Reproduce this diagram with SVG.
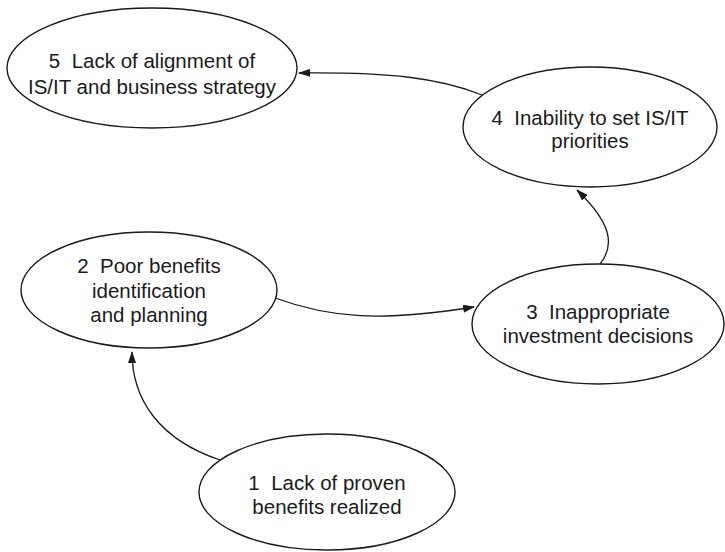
<svg xmlns="http://www.w3.org/2000/svg" width="725" height="552" viewBox="0 0 725 552">
<style>
.node ellipse{fill:#fff;stroke:#1a1a1a;stroke-width:1.4}
.node text{font-family:"Liberation Sans",Arial,sans-serif;font-size:20.5px;fill:#1a1a1a;text-anchor:middle}
.edge{fill:none;stroke:#1a1a1a;stroke-width:1.3}
</style>
<defs>
<marker id="arr" markerWidth="12" markerHeight="8" refX="11" refY="4" orient="auto" markerUnits="userSpaceOnUse">
<path d="M0,0 L12,4 L0,8 Z" fill="#1a1a1a"/>
</marker>
</defs>
<g id="connectors">
<path class="edge" d="M482,95 C440,78 390,72 299,73" marker-end="url(#arr)"/>
<path class="edge" d="M600,264 C616,244 610,222 577,190" marker-end="url(#arr)"/>
<path class="edge" d="M275,298 C330,318 380,322 474,307" marker-end="url(#arr)"/>
<path class="edge" d="M220,460 C160,440 132,400 132,352" marker-end="url(#arr)"/>
</g>
<g id="node5" class="node">
<ellipse cx="152" cy="68" rx="145" ry="60"/>
<text x="152" y="68">5&#160; Lack of alignment of</text>
<text x="152" y="94">IS/IT and business strategy</text>
</g>
<g id="node4" class="node">
<ellipse cx="590" cy="127" rx="127" ry="60"/>
<text x="590" y="125">4&#160; Inability to set IS/IT</text>
<text x="590" y="148">priorities</text>
</g>
<g id="node2" class="node">
<ellipse cx="149" cy="290" rx="128" ry="58"/>
<text x="149" y="273">2&#160; Poor benefits</text>
<text x="149" y="298">identification</text>
<text x="149" y="322">and planning</text>
</g>
<g id="node3" class="node">
<ellipse cx="598" cy="324" rx="126" ry="60"/>
<text x="598" y="319">3&#160; Inappropriate</text>
<text x="598" y="343">investment decisions</text>
</g>
<g id="node1" class="node">
<ellipse cx="327" cy="492" rx="128" ry="58"/>
<text x="327" y="490">1&#160; Lack of proven</text>
<text x="327" y="514">benefits realized</text>
</g>
</svg>
